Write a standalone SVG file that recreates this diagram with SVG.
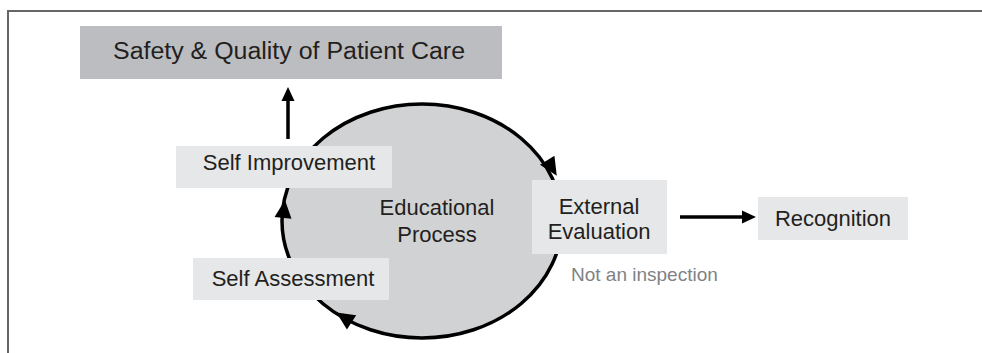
<svg xmlns="http://www.w3.org/2000/svg" width="982" height="353" viewBox="0 0 982 353">
<defs>
<style>
.t{font-family:"Liberation Sans",Arial,sans-serif;fill:#231f20;text-anchor:middle}
.box{fill:#e6e7e8}
.ln{stroke:#000;stroke-width:3.5;fill:none}
.ah{fill:#000}
</style>
</defs>
<rect width="982" height="353" fill="#fff"/>
<path d="M8,353 V11 H982" fill="none" stroke="#666" stroke-width="2"/>
<g id="process">
<ellipse cx="422" cy="221" rx="140" ry="117" fill="#d1d2d4" stroke="#000" stroke-width="3.5"/>
<text class="t" x="437" y="215" font-size="22">Educational</text>
<text class="t" x="437" y="242" font-size="22">Process</text>
</g>
<g id="connectors">
<line class="ln" x1="288" y1="139" x2="288" y2="100"/>
<polygon class="ah" points="288,87 281.5,101 294.5,101"/>
<line class="ln" x1="680" y1="217" x2="743" y2="217"/>
<polygon class="ah" points="756,217 742,210.5 742,223.5"/>
<polygon class="ah" transform="translate(552,168) rotate(58)" points="9,0 -9,-8.5 -9,8.5"/>
<polygon class="ah" transform="translate(284,209) rotate(-84)" points="9,0 -9,-8.5 -9,8.5"/>
<polygon class="ah" transform="translate(344,317.5) rotate(-147)" points="9,0 -9,-8.5 -9,8.5"/>
</g>
<g id="safety">
<rect x="80" y="26" width="422" height="53" fill="#bcbdc0"/>
<text class="t" x="289" y="59" font-size="23" textLength="352" lengthAdjust="spacingAndGlyphs">Safety &amp; Quality of Patient Care</text>
</g>
<g id="self-improvement">
<rect class="box" x="176" y="146" width="216" height="42"/>
<text class="t" x="289" y="170" font-size="22">Self Improvement</text>
</g>
<g id="self-assessment">
<rect class="box" x="193" y="258" width="196" height="42"/>
<text class="t" x="293" y="286" font-size="22">Self Assessment</text>
</g>
<g id="external-evaluation">
<rect class="box" x="532" y="180" width="135" height="74"/>
<text class="t" x="599" y="214" font-size="22">External</text>
<text class="t" x="599" y="239" font-size="22">Evaluation</text>
<text x="571" y="281" font-family="Liberation Sans,Arial,sans-serif" font-size="19" fill="#808285">Not an inspection</text>
</g>
<g id="recognition">
<rect class="box" x="758" y="197" width="150" height="43"/>
<text class="t" x="833" y="226" font-size="22">Recognition</text>
</g>
</svg>
